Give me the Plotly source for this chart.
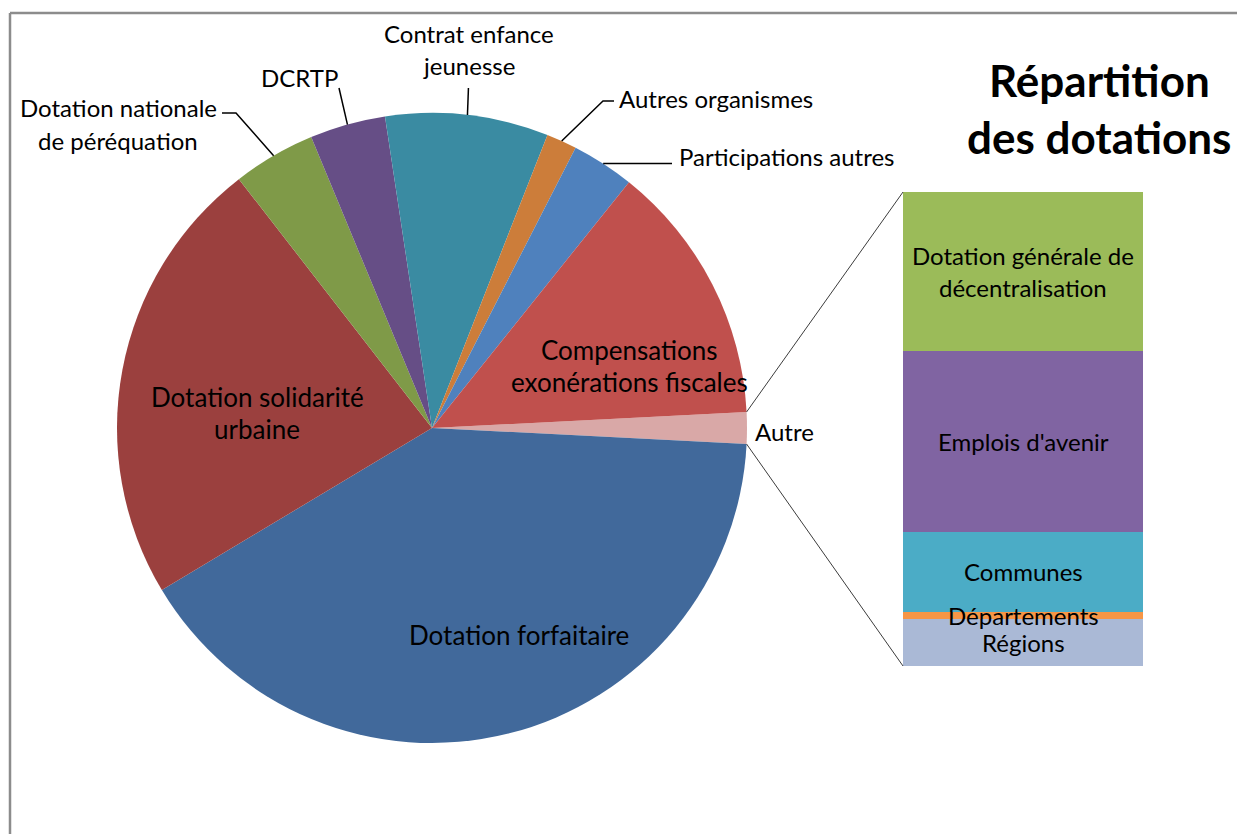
import math
import plotly.graph_objects as go

# ---- Data -------------------------------------------------------------
# Pie: main split of the dotations (clockwise, starting with "Autre")
main_labels = ["Dotation forfaitaire", "Dotation solidarité urbaine",
               "Dotation nationale de péréquation", "DCRTP",
               "Contrat enfance jeunesse", "Autres organismes",
               "Participations autres", "Compensations exonérations fiscales"]
main_values = [40.6, 23.1, 4.24, 3.88, 8.36, 1.56, 3.22, 13.44]

# Bar: breakdown of the "Autre" slice (bottom to top)
bar_labels = ["Régions", "Départements", "Communes", "Emplois d'avenir",
              "Dotation générale de décentralisation"]
bar_values = [0.161, 0.025, 0.272, 0.619, 0.543]

autre_label = "Autre"
autre_value = sum(bar_values)

pie_labels = [autre_label] + main_labels
pie_values = [autre_value] + main_values

pie_colors = ["#D9A8A7", "#41699B", "#9B403E", "#7F9A48", "#664E86",
              "#3A8BA2", "#CC7D3A", "#4F81BD", "#C0504D"]
bar_colors = ["#AAB9D6", "#F79646", "#4BACC6", "#8064A2", "#9BBB59"]

# ---- Layout geometry (pixels) ----------------------------------------
W, H = 1237, 834
CX, CY, R = 432, 428, 315          # pie centre / radius
BAR_X0, BAR_X1 = 903, 1143         # bar left / right
BAR_TOP, BAR_BOT = 192, 666        # bar top / bottom
FONT = "Lato"
FS_OUT = 24      # labels outside the pie and in the bar
FS_IN = 26       # labels inside the pie
LINE_GAP = 32    # distance between two lines of a label


def px(x):
    return x / W


def py(y):
    return 1 - y / H


total = sum(pie_values)
deg_per_unit = 360.0 / total
rotation = 90 - autre_value * deg_per_unit / 2   # "Autre" centred on 3 o'clock

# start / mid angles (clockwise from 12 o'clock) of each slice
starts, mids = [], []
acc = rotation
for v in pie_values:
    starts.append(acc)
    mids.append(acc + v * deg_per_unit / 2)
    acc += v * deg_per_unit


def rim(angle_deg, r=R):
    a = math.radians(angle_deg)
    return CX + r * math.sin(a), CY - r * math.cos(a)


fig = go.Figure()

fig.add_trace(go.Pie(
    labels=pie_labels, values=pie_values, sort=False,
    direction="clockwise", rotation=rotation,
    marker=dict(colors=pie_colors, line=dict(width=0)),
    textinfo="none", hoverinfo="label+value", showlegend=False,
    domain=dict(x=[px(CX - R), px(CX + R)], y=[py(CY + R), py(CY - R)]),
))

for lab, val, col in zip(bar_labels, bar_values, bar_colors):
    fig.add_trace(go.Bar(
        x=[0], y=[val], width=1, marker=dict(color=col, line=dict(width=0)),
        name=lab, showlegend=False, hoverinfo="name+y",
    ))

fig.update_layout(
    barmode="stack",
    width=W, height=H,
    margin=dict(l=0, r=0, t=0, b=0),
    paper_bgcolor="white", plot_bgcolor="rgba(0,0,0,0)",
    xaxis=dict(domain=[px(BAR_X0), px(BAR_X1)], range=[-0.5, 0.5],
               visible=False, fixedrange=True),
    yaxis=dict(domain=[py(BAR_BOT), py(BAR_TOP)], range=[0, autre_value],
               visible=False, fixedrange=True),
    font=dict(family=FONT, size=FS_OUT, color="black"),
)

shapes = []
annotations = []

# outer frame (top and left edges)
shapes.append(dict(type="line", xref="paper", yref="paper",
                   x0=px(10), y0=py(13), x1=1, y1=py(13),
                   line=dict(color="#8C8C8C", width=2.5)))
shapes.append(dict(type="line", xref="paper", yref="paper",
                   x0=px(10), y0=py(13), x1=px(10), y1=0,
                   line=dict(color="#8C8C8C", width=2.5)))

# connectors from the "Autre" slice to the bar
ax0, ay0 = rim(starts[0])
ax1, ay1 = rim(starts[0] + autre_value * deg_per_unit)
shapes.append(dict(type="line", xref="paper", yref="paper",
                   x0=px(ax0), y0=py(ay0), x1=px(BAR_X0), y1=py(BAR_TOP),
                   line=dict(color="#3C3C3C", width=1)))
shapes.append(dict(type="line", xref="paper", yref="paper",
                   x0=px(ax1), y0=py(ay1), x1=px(BAR_X0), y1=py(BAR_BOT),
                   line=dict(color="#3C3C3C", width=1)))


def leader(points):
    path = "M " + " L ".join(f"{px(x)},{py(y)}" for x, y in points)
    shapes.append(dict(type="path", xref="paper", yref="paper", path=path,
                       line=dict(color="black", width=1.5)))


def label(lines, x, y, xanchor="center", size=FS_OUT):
    """One annotation per text line, first line centred on y."""
    for k, line in enumerate(lines):
        annotations.append(dict(text=line, x=px(x), y=py(y + k * LINE_GAP),
                                xref="paper", yref="paper", showarrow=False,
                                xanchor=xanchor, yanchor="middle",
                                font=dict(family=FONT, size=size,
                                          color="black")))


idx = {lab: i for i, lab in enumerate(pie_labels)}

# outside labels with leader lines
p = rim(mids[idx["Dotation nationale de péréquation"]])
leader([p, (236, 113), (222, 113)])
label(["Dotation nationale", "de péréquation"], 118, 108)

p = rim(mids[idx["DCRTP"]])
leader([p, (339, 88)])
label(["DCRTP"], 299, 78)

p = rim(mids[idx["Contrat enfance jeunesse"]])
leader([p, (p[0] + 1, 88)])
label(["Contrat enfance", "jeunesse"], 469, 34)

p = rim(mids[idx["Autres organismes"]])
leader([p, (603, 101), (614, 101)])
label(["Autres organismes"], 617, 98, xanchor="left")

p = rim(mids[idx["Participations autres"]])
leader([p, (672, p[1])])
label(["Participations autres"], 677, 157, xanchor="left")

label(["Autre"], 753, 431, xanchor="left")

# labels inside the pie
label(["Compensations", "exonérations fiscales"], 629, 350, size=FS_IN)
label(["Dotation solidarité", "urbaine"], 257, 397, size=FS_IN)
label(["Dotation forfaitaire"], 519, 635, size=FS_IN)

# labels inside the bar, at the centre of each segment
bar_text = {"Dotation générale de décentralisation":
            ["Dotation générale de", "décentralisation"]}
cum = 0
for lab, val in zip(bar_labels, bar_values):
    lines = bar_text.get(lab, [lab])
    n = len(lines)
    for k, line in enumerate(lines):
        annotations.append(dict(
            text=line, x=0, y=cum + val / 2, xref="x", yref="y",
            yshift=((n - 1) / 2 - k) * LINE_GAP,
            showarrow=False, xanchor="center", yanchor="middle",
            font=dict(family=FONT, size=FS_OUT, color="black")))
    cum += val

# title
for k, line in enumerate(["Répartition", "des dotations"]):
    annotations.append(dict(text=f"<b>{line}</b>", x=px(1099),
                            y=py(80 + 57 * k), xref="paper", yref="paper",
                            showarrow=False, xanchor="center",
                            yanchor="middle",
                            font=dict(family=FONT, size=44, color="black")))

fig.update_layout(shapes=shapes, annotations=annotations)
fig.write_html("out.html")
